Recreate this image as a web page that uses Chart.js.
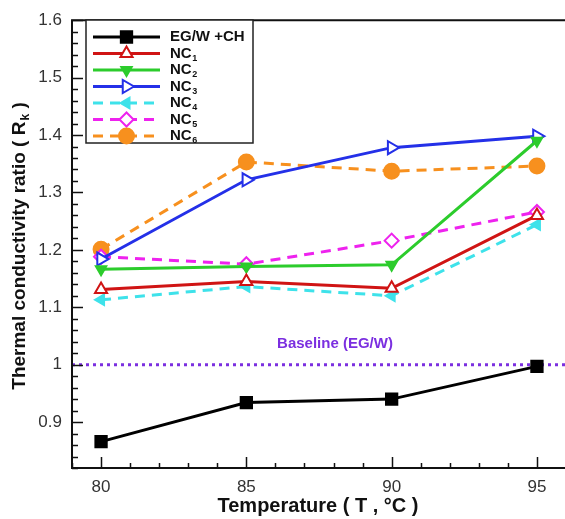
<!DOCTYPE html>
<html>
<head>
<meta charset="utf-8">
<script src="https://cdn.jsdelivr.net/npm/chart.js@4.4.1/dist/chart.umd.min.js"></script>
<style>
html, body { margin: 0; padding: 0; background: #fff; overflow: hidden; width: 565px; height: 519px; }
#wrap { width: 600px; height: 519px; }
</style>
</head>
<body>
<div id="wrap"><canvas id="c" width="600" height="519"></canvas></div>
<script>
// Temperatures (°C) and thermal conductivity ratio R_k for each fluid
const temperatures = [80, 85, 90, 95];
const egwCh = [0.866, 0.934, 0.940, 0.997];
const nc1 = [1.131, 1.145, 1.133, 1.260];
const nc2 = [1.166, 1.171, 1.174, 1.390];
const nc3 = [1.184, 1.322, 1.378, 1.398];
const nc4 = [1.113, 1.136, 1.120, 1.244];
const nc5 = [1.188, 1.175, 1.216, 1.266];
const nc6 = [1.201, 1.353, 1.337, 1.346];
const seriesNames = ['EG/W +CH', 'NC1', 'NC2', 'NC3', 'NC4', 'NC5', 'NC6'];
const baselineValue = 1;
const baselineLabel = 'Baseline (EG/W)';
const xTickLabels = [80, 85, 90, 95];
const yTickLabels = [0.9, 1, 1.1, 1.2, 1.3, 1.4, 1.5, 1.6];
const xTitle = 'Temperature ( T , °C )';
const yTitleMain = 'Thermal conductivity ratio ( R';
const yTitleSub = 'k';
const yTitleEnd = ' )';

const FONT = '"Liberation Sans", Arial, Helvetica, sans-serif';

const seriesValues = [egwCh, nc1, nc2, nc3, nc4, nc5, nc6];
const seriesStyles = [
  { color: '#000000', fill: '#000000', style: 'rect', radius: 8, rot: 0, dash: [] },
  { color: '#d01414', fill: '#ffffff', style: 'triangle', radius: 7, rot: 0, dash: [] },
  { color: '#2ccc2c', fill: '#2ccc2c', style: 'triangle', radius: 6, rot: 180, dash: [] },
  { color: '#2430e8', fill: '#ffffff', style: 'triangle', radius: 7.5, rot: 90, dash: [] },
  { color: '#3ee2ea', fill: '#3ee2ea', style: 'triangle', radius: 6, rot: 270, dash: [10, 7] },
  { color: '#ee22ee', fill: '#ffffff', style: 'rectRot', radius: 7, rot: 0, dash: [10, 7] },
  { color: '#f7901e', fill: '#f7901e', style: 'circle', radius: 7.5, rot: 0, dash: [10, 7] }
];

const datasets = seriesValues.map((vals, i) => {
  const s = seriesStyles[i];
  return {
    label: seriesNames[i],
    data: temperatures.map((t, j) => ({ x: t, y: vals[j] })),
    borderColor: s.color,
    backgroundColor: s.fill,
    borderWidth: 3,
    borderDash: s.dash,
    pointStyle: s.style,
    pointRadius: s.radius,
    pointRotation: s.rot,
    pointBorderWidth: 2,
    pointBackgroundColor: s.fill,
    pointBorderColor: s.color,
    pointHoverRadius: s.radius,
    tension: 0,
    fill: false
  };
});

datasets.push({
  label: baselineLabel,
  data: [{ x: 79, y: baselineValue }, { x: 96, y: baselineValue }],
  borderColor: '#7b2fe0',
  borderWidth: 3,
  borderDash: [3, 4],
  pointRadius: 0,
  fill: false,
  isBaseline: true
});

function isMajorY(v) { return yTickLabels.some(t => Math.abs(t - v) < 1e-6); }
function isMajorX(v) { return xTickLabels.some(t => Math.abs(t - v) < 1e-6); }

// Draws text where trailing digits are set as a subscript
function drawLabelWithSub(ctx, text, x, y, size) {
  const m = text.match(/^(.*?)(\d+)$/);
  ctx.font = 'bold ' + size + 'px ' + FONT;
  ctx.textAlign = 'left';
  ctx.textBaseline = 'middle';
  if (!m) { ctx.fillText(text, x, y); return; }
  ctx.fillText(m[1], x, y);
  const w = ctx.measureText(m[1]).width;
  ctx.font = 'bold ' + Math.round(size * 0.62) + 'px ' + FONT;
  ctx.fillText(m[2], x + w + 0.5, y + size * 0.32);
}

const decorations = {
  id: 'decorations',
  afterDraw(chart) {
    const ctx = chart.ctx;
    const a = chart.chartArea;
    const xs = chart.scales.x, ys = chart.scales.y;
    ctx.save();

    // frame
    ctx.strokeStyle = '#111';
    ctx.lineWidth = 2;
    ctx.beginPath();
    ctx.moveTo(a.right + 2, a.top);
    ctx.lineTo(a.left, a.top);
    ctx.lineTo(a.left, a.bottom);
    ctx.lineTo(a.right + 2, a.bottom);
    ctx.stroke();

    // inward tick marks
    ctx.lineWidth = 1.5;
    ctx.beginPath();
    ys.ticks.forEach(t => {
      const py = Math.round(ys.getPixelForValue(t.value)) + 0.5;
      const len = isMajorY(t.value) ? 11 : 6;
      ctx.moveTo(a.left, py);
      ctx.lineTo(a.left + len, py);
    });
    xs.ticks.forEach(t => {
      const px = Math.round(xs.getPixelForValue(t.value)) + 0.5;
      const len = isMajorX(t.value) ? 11 : 5;
      ctx.moveTo(px, a.bottom);
      ctx.lineTo(px, a.bottom - len);
    });
    ctx.stroke();

    // baseline caption
    ctx.fillStyle = '#7b2fe0';
    ctx.font = 'bold 15px ' + FONT;
    ctx.textAlign = 'center';
    ctx.textBaseline = 'middle';
    ctx.fillText(baselineLabel, 335, ys.getPixelForValue(baselineValue) - 21);

    // axis titles
    ctx.fillStyle = '#111';
    ctx.font = 'bold 20px ' + FONT;
    ctx.textAlign = 'center';
    ctx.textBaseline = 'middle';
    ctx.fillText(xTitle, 318, 506);

    ctx.save();
    ctx.translate(20, 246);
    ctx.rotate(-Math.PI / 2);
    ctx.font = 'bold 19px ' + FONT;
    const w1 = ctx.measureText(yTitleMain).width;
    ctx.font = 'bold 12px ' + FONT;
    const w2 = ctx.measureText(yTitleSub).width;
    ctx.font = 'bold 19px ' + FONT;
    const w3 = ctx.measureText(yTitleEnd).width;
    let sx = -(w1 + w2 + w3 + 1) / 2;
    ctx.textAlign = 'left';
    ctx.fillText(yTitleMain, sx, 0);
    ctx.font = 'bold 12px ' + FONT;
    ctx.fillText(yTitleSub, sx + w1 + 1, 6);
    ctx.font = 'bold 19px ' + FONT;
    ctx.fillText(yTitleEnd, sx + w1 + w2 + 1, 0);
    ctx.restore();

    // legend
    const lx = 86, ly = 20, lw = 167, lh = 123;
    ctx.fillStyle = '#fff';
    ctx.fillRect(lx, ly, lw, lh);
    ctx.strokeStyle = '#222';
    ctx.lineWidth = 1.5;
    ctx.strokeRect(lx, ly, lw, lh);
    chart.data.datasets.forEach((ds, i) => {
      if (ds.isBaseline) return;
      const ry = 37 + i * 16.5;
      ctx.save();
      ctx.strokeStyle = ds.borderColor;
      ctx.lineWidth = 3;
      ctx.setLineDash(ds.borderDash || []);
      ctx.beginPath();
      ctx.moveTo(93, ry);
      ctx.lineTo(160, ry);
      ctx.stroke();
      ctx.setLineDash([]);
      ctx.fillStyle = ds.pointBackgroundColor;
      ctx.strokeStyle = ds.pointBorderColor;
      ctx.lineWidth = ds.pointBorderWidth;
      Chart.helpers.drawPoint(ctx, {
        pointStyle: ds.pointStyle,
        radius: ds.pointRadius,
        rotation: ds.pointRotation,
        borderWidth: ds.pointBorderWidth
      }, 126.5, ry);
      ctx.restore();
      ctx.fillStyle = '#111';
      drawLabelWithSub(ctx, ds.label, 170, ry, 15);
    });

    ctx.restore();
  }
};

new Chart(document.getElementById('c'), {
  type: 'line',
  data: { datasets },
  options: {
    responsive: false,
    animation: false,
    devicePixelRatio: 1,
    layout: { padding: { top: 16, right: 34, bottom: 0, left: 0 } },
    plugins: { legend: { display: false }, tooltip: { enabled: false }, title: { display: false } },
    scales: {
      x: {
        type: 'linear',
        min: 79,
        max: 96,
        grid: { display: false, drawTicks: false },
        border: { display: false },
        afterFit(s) { s.height = 51; },
        ticks: {
          stepSize: 1,
          autoSkip: false,
          maxRotation: 0,
          padding: 9,
          color: '#333',
          font: { family: FONT, size: 17 },
          callback: v => (isMajorX(v) ? String(v) : '')
        }
      },
      y: {
        type: 'linear',
        min: 0.82,
        max: 1.6,
        grid: { display: false, drawTicks: false },
        border: { display: false },
        afterFit(s) { s.width = 72; },
        ticks: {
          stepSize: 0.02,
          autoSkip: false,
          padding: 10,
          color: '#333',
          font: { family: FONT, size: 17 },
          callback: v => (isMajorY(v) ? String(Math.round(v * 10) / 10) : '')
        }
      }
    }
  },
  plugins: [decorations]
});
</script>
</body>
</html>
